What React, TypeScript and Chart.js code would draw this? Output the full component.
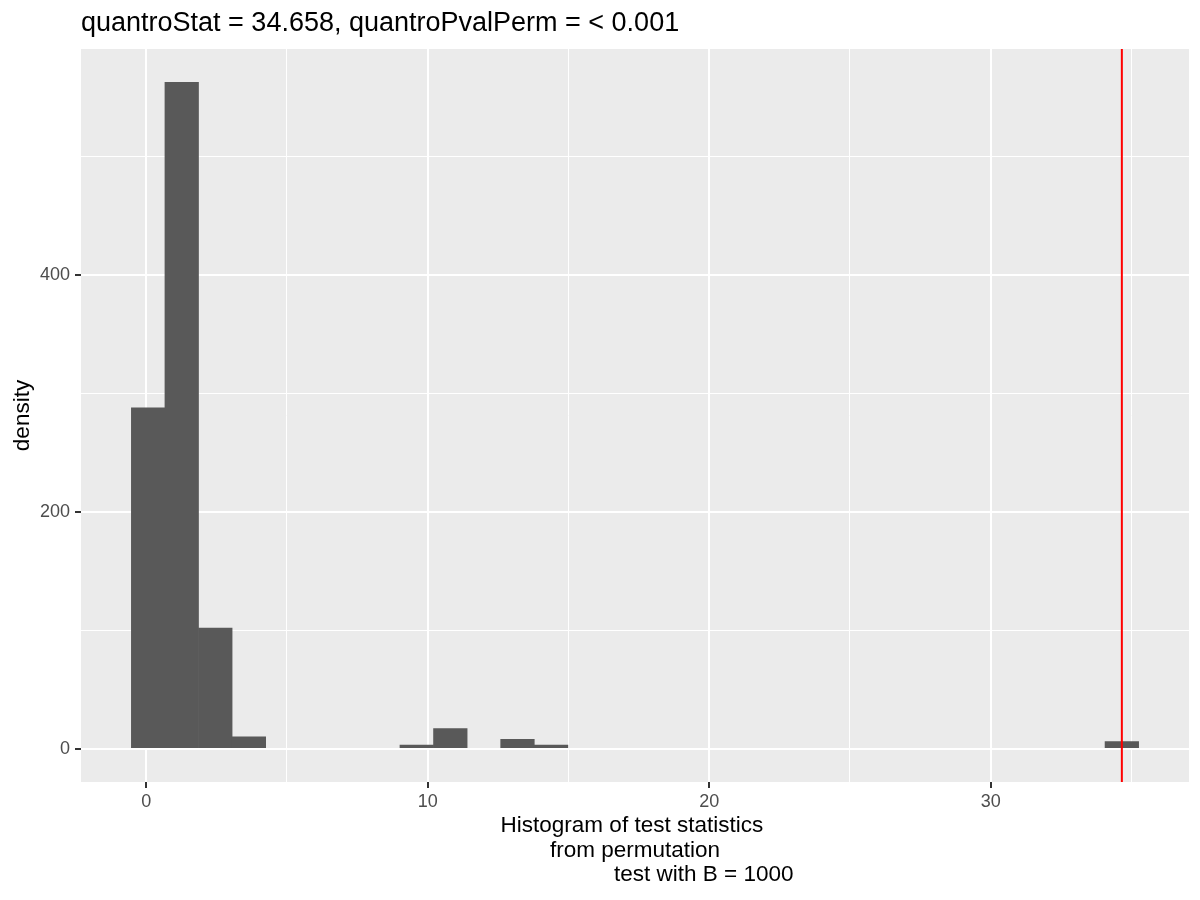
import { useEffect, useRef } from "react";
import { Chart, registerables } from "chart.js";

Chart.register(...registerables);

// ---- data ----
const binCounts = [288, 563, 102, 10, 0, 0, 0, 0, 3, 17, 0, 8, 3, 0, 0, 0, 0, 0, 0, 0, 0, 0, 0, 0, 0, 0, 0, 0, 0, 6];
const statMin = 0.07; // centre of the first bin (smallest permutation statistic)
const statMax = 34.658; // centre of the last bin (largest statistic)
const observedStat = 34.658;
const xMajorTicks = [0, 10, 20, 30];
const xMinorTicks = [5, 15, 25, 35];
const yMajorTicks = [0, 200, 400];
const yMinorTicks = [100, 300, 500];
const titleText = "quantroStat = 34.658, quantroPvalPerm = < 0.001";
const xTitleLines = [
  "Histogram of test statistics ",
  " from permutation ",
  "                      test with B = 1000",
];
const yTitleText = "density";

const FONT = '"Liberation Sans", Arial, sans-serif';

export default function App() {
  const canvasRef = useRef<HTMLCanvasElement | null>(null);

  useEffect(() => {
    document.body.style.margin = "0";
    const canvas = canvasRef.current;
    if (!canvas) return;

    const nBins = binCounts.length;
    const binWidth = (statMax - statMin) / (nBins - 1);
    const binCenters = binCounts.map((_, i) => statMin + i * binWidth);
    const leftEdge = statMin - binWidth / 2;
    const rightEdge = statMax + binWidth / 2;
    const xExpand = (rightEdge - leftEdge) * 0.05;
    const yMaxData = Math.max(...binCounts);
    const yExpand = yMaxData * 0.05;

    const xTicksAll = [...xMajorTicks, ...xMinorTicks].sort((a, b) => a - b);
    const yTicksAll = [...yMajorTicks, ...yMinorTicks].sort((a, b) => a - b);

    const decor = {
      id: "decor",
      beforeDraw(chart: any) {
        const { ctx, chartArea } = chart;
        ctx.save();
        ctx.fillStyle = "#FFFFFF";
        ctx.fillRect(0, 0, chart.width, chart.height);
        ctx.fillStyle = "#EBEBEB";
        ctx.fillRect(chartArea.left, chartArea.top, chartArea.right - chartArea.left, chartArea.bottom - chartArea.top);
        ctx.restore();
      },
      afterDatasetsDraw(chart: any) {
        const { ctx, chartArea } = chart;
        const xs = chart.scales.x;
        const px = xs.getPixelForValue(observedStat);
        ctx.save();
        ctx.strokeStyle = "#FF0000";
        ctx.lineWidth = 2;
        ctx.beginPath();
        ctx.moveTo(px, chartArea.top);
        ctx.lineTo(px, chartArea.bottom);
        ctx.stroke();
        ctx.restore();
      },
      afterDraw(chart: any) {
        const { ctx, chartArea } = chart;
        ctx.save();
        ctx.fillStyle = "#000000";
        // plot title
        ctx.font = `27px ${FONT}`;
        ctx.textAlign = "left";
        ctx.textBaseline = "alphabetic";
        ctx.fillText(titleText, chartArea.left, chartArea.top - 18.5);
        // x axis title (multi-line, each line centred)
        ctx.font = `22.5px ${FONT}`;
        ctx.textAlign = "center";
        const cx = (chartArea.left + chartArea.right) / 2;
        xTitleLines.forEach((line, i) => {
          ctx.fillText(line, cx, chartArea.bottom + 50.3 + i * 24.4);
        });
        // y axis title
        ctx.translate(chartArea.left - 52.5, (chartArea.top + chartArea.bottom) / 2);
        ctx.rotate(-Math.PI / 2);
        ctx.textAlign = "center";
        ctx.textBaseline = "alphabetic";
        ctx.fillText(yTitleText, 0, 0);
        ctx.restore();
      },
    };

    const isMajorX = (v: number) => xMajorTicks.includes(v);
    const isMajorY = (v: number) => yMajorTicks.includes(v);

    const chart = new Chart(canvas, {
      type: "bar",
      data: {
        datasets: [
          {
            data: binCenters.map((x, i) => ({ x, y: binCounts[i] })),
            backgroundColor: (c: any) => (c.raw && c.raw.y > 0 ? "#595959" : "rgba(0,0,0,0)"),
            borderWidth: 0,
            barPercentage: 1,
            categoryPercentage: 1,
          },
        ],
      },
      options: {
        animation: false,
        responsive: false,
        devicePixelRatio: 1,
        layout: { padding: { top: 49, right: 11, left: 0, bottom: 0 } },
        plugins: {
          legend: { display: false },
          tooltip: { enabled: false },
          title: { display: false },
        },
        scales: {
          x: {
            type: "linear",
            offset: false,
            min: leftEdge - xExpand,
            max: rightEdge + xExpand,
            afterBuildTicks(scale: any) {
              scale.ticks = xTicksAll.map((v) => ({ value: v }));
            },
            afterFit(scale: any) {
              scale.height = 118;
            },
            border: { display: false },
            grid: {
              offset: false,
              color: "#FFFFFF",
              lineWidth: (c: any) => (isMajorX(c.tick?.value) ? 2 : 1),
              tickColor: (c: any) => (isMajorX(c.tick?.value) ? "#333333" : "rgba(0,0,0,0)"),
              tickWidth: 2,
              tickLength: 6,
              drawTicks: true,
            },
            ticks: {
              autoSkip: false,
              maxRotation: 0,
              padding: 3,
              color: "#4D4D4D",
              font: { family: FONT, size: 18 },
              callback: (v: any) => (isMajorX(Number(v)) ? String(v) : ""),
            },
          },
          y: {
            type: "linear",
            min: -yExpand,
            max: yMaxData + yExpand,
            afterBuildTicks(scale: any) {
              scale.ticks = yTicksAll.map((v) => ({ value: v }));
            },
            afterFit(scale: any) {
              scale.width = 81;
            },
            border: { display: false },
            grid: {
              color: "#FFFFFF",
              lineWidth: (c: any) => (isMajorY(c.tick?.value) ? 2 : 1),
              tickColor: (c: any) => (isMajorY(c.tick?.value) ? "#333333" : "rgba(0,0,0,0)"),
              tickWidth: 2,
              tickLength: 6,
              drawTicks: true,
            },
            ticks: {
              autoSkip: false,
              padding: 5,
              color: "#4D4D4D",
              font: { family: FONT, size: 18 },
              callback: (v: any) => (isMajorY(Number(v)) ? String(v) : ""),
            },
          },
        },
      },
      plugins: [decor],
    } as any);

    return () => chart.destroy();
  }, []);

  return (
    <div style={{ width: 1200, height: 900 }}>
      <canvas ref={canvasRef} width={1200} height={900} style={{ display: "block" }} />
    </div>
  );
}
